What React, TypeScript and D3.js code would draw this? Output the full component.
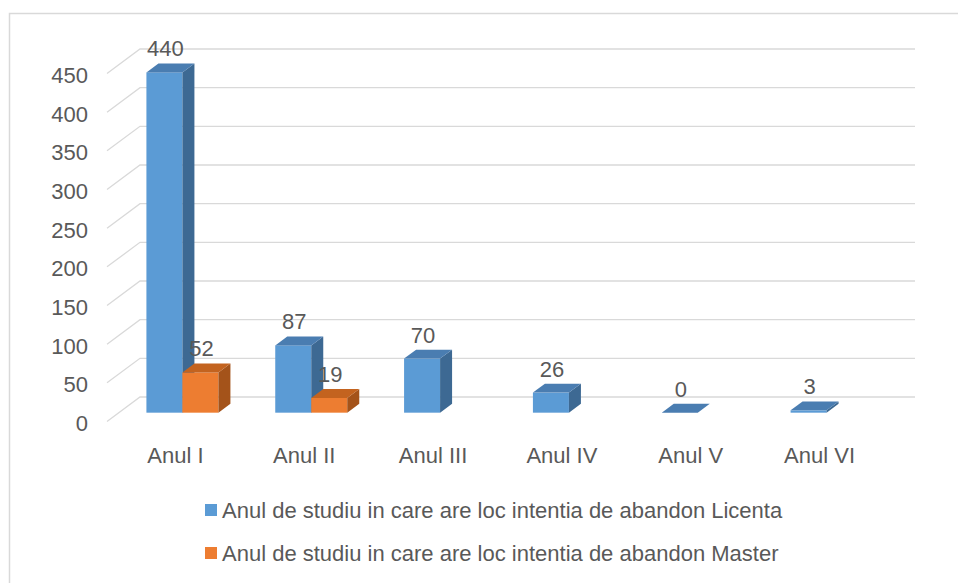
import React from "react";
import * as d3 from "d3";

const categories = ["Anul I", "Anul II", "Anul III", "Anul IV", "Anul V", "Anul VI"];
const licentaValues: (number | null)[] = [440, 87, 70, 26, 0, 3];
const masterValues: (number | null)[] = [52, 19, null, null, null, null];
const yTicks = [0, 50, 100, 150, 200, 250, 300, 350, 400, 450];
const seriesNames = [
  "Anul de studiu in care are loc intentia de abandon Licenta",
  "Anul de studiu in care are loc intentia de abandon Master",
];

const W = 958;
const H = 583;
const FONT = "'Liberation Sans', Arial, sans-serif";
const TEXT = "#595959";
const GRID = "#d9d9d9";

// 3D geometry
const depthDX = -33; // back wall -> front floor
const depthDY = 24.5;
const barFrontT = 0.64; // fraction of depth where bar front face sits
const barDX = 12;
const barDY = 8.9;

const series = [
  { name: seriesNames[0], values: licentaValues, front: "#5b9bd5", top: "#4a7db1", side: "#3d6993" },
  { name: seriesNames[1], values: masterValues, front: "#ed7d31", top: "#c3631f", side: "#a4531a" },
];

export default function App() {
  const yBack = d3.scaleLinear().domain([0, 450]).range([397, 49]);
  const wallX0 = 140;
  const wallX1 = 915;
  const xFront = d3.scaleBand<string>().domain(categories).range([118, 891]);
  const step = xFront.step();
  const barW = 36;
  const fOffX = depthDX * barFrontT;
  const fOffY = depthDY * barFrontT;
  const yFront = (v: number) => yBack(v) + fOffY;

  const bars: React.ReactNode[] = [];
  const labels: React.ReactNode[] = [];
  categories.forEach((c, i) => {
    const center = (xFront(c) as number) + step / 2;
    series.forEach((s, si) => {
      const v = s.values[i];
      if (v === null || v === undefined) return;
      const x = center - barW + si * barW;
      const yT = yFront(v);
      const y0 = yFront(0);
      bars.push(
        <g key={`b-${i}-${si}`}>
          <rect x={x} y={yT} width={barW} height={Math.max(0, y0 - yT)} fill={s.front} />
          <polygon
            points={`${x + barW},${yT} ${x + barW + barDX},${yT - barDY} ${x + barW + barDX},${y0 - barDY} ${x + barW},${y0}`}
            fill={s.side}
          />
          <polygon
            points={`${x},${yT} ${x + barDX},${yT - barDY} ${x + barW + barDX},${yT - barDY} ${x + barW},${yT}`}
            fill={s.top}
          />
        </g>
      );
      labels.push(
        <text
          key={`l-${i}-${si}`}
          x={x + barW / 2 + 1}
          y={yT - 16}
          textAnchor="middle"
          fontFamily={FONT}
          fontSize={22}
          fill={TEXT}
        >
          {v}
        </text>
      );
    });
  });

  return (
    <svg
      width={W}
      height={H}
      style={{ position: "absolute", left: 0, top: 0, background: "#fff" }}
    >
      <rect x={0} y={0} width={W} height={H} fill="#fff" />
      <rect x={9.5} y={13.5} width={W + 20} height={H + 20} fill="none" stroke={GRID} strokeWidth={1.5} />
      {yTicks.map((t) => {
        const yb = yBack(t);
        return (
          <g key={`g-${t}`}>
            <polyline
              points={`${wallX0 + depthDX},${yb + depthDY} ${wallX0},${yb} ${wallX1},${yb}`}
              fill="none"
              stroke={GRID}
              strokeWidth={1.3}
            />
            <text
              x={88}
              y={yb + depthDY + 9.5}
              textAnchor="end"
              fontFamily={FONT}
              fontSize={22}
              fill={TEXT}
            >
              {t}
            </text>
          </g>
        );
      })}
      {bars}
      {labels}
      {categories.map((c) => (
        <text
          key={`c-${c}`}
          x={(xFront(c) as number) + step / 2 - 7}
          y={463}
          textAnchor="middle"
          fontFamily={FONT}
          fontSize={22}
          fill={TEXT}
        >
          {c}
        </text>
      ))}
      {series.map((s, i) => (
        <g key={`lg-${i}`}>
          <rect x={205} y={504 + i * 43} width={12} height={12} fill={s.front} />
          <text x={222} y={518 + i * 43} fontFamily={FONT} fontSize={22} fill={TEXT}>
            {s.name}
          </text>
        </g>
      ))}
    </svg>
  );
}
